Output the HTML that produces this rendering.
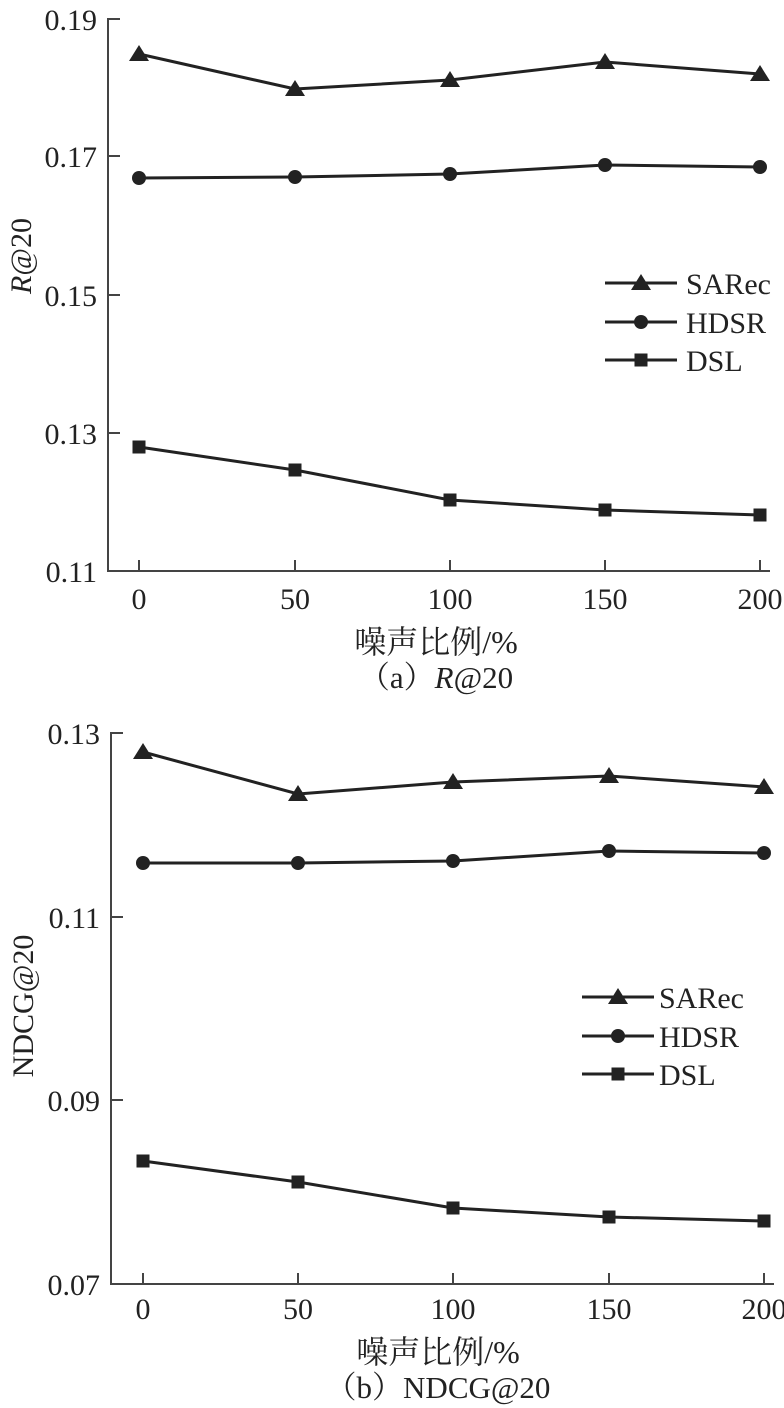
<!DOCTYPE html>
<html><head><meta charset="utf-8"><style>html,body{margin:0;padding:0;background:#fff}svg{display:block}</style></head>
<body>
<svg width="784" height="1408" viewBox="0 0 784 1408" xmlns="http://www.w3.org/2000/svg" font-family="'Liberation Serif','Noto Serif CJK SC',serif" fill="#222">
<defs>
<g id="tri"><polygon points="0,-9 10,7 -10,7" fill="#222"/></g>
<g id="cir"><circle r="7" fill="#222"/></g>
<g id="sq"><rect x="-6.5" y="-6.5" width="13" height="13" fill="#222"/></g>
</defs>
<!-- Chart a -->
<g stroke="#444" stroke-width="2" fill="none">
<path d="M120,19 H108 V571 H770"/>
<path d="M108,156 H120 M108,295 H120 M108,433 H120"/>
<path d="M139,571 V560 M295,571 V560 M450,571 V560 M605,571 V560 M760,571 V560"/>
</g>
<g font-size="30" text-anchor="end">
<text x="97" y="30">0.19</text><text x="97" y="167">0.17</text><text x="97" y="306">0.15</text><text x="97" y="444">0.13</text><text x="97" y="582">0.11</text>
</g>
<g font-size="30" text-anchor="middle">
<text x="139" y="609">0</text><text x="295" y="609">50</text><text x="450" y="609">100</text><text x="605" y="609">150</text><text x="760" y="609">200</text>
<text x="436" y="653" font-size="32">噪声比例/%</text>
<text x="436" y="688" font-size="31">（a）<tspan font-style="italic">R</tspan>@20</text>
<text transform="translate(31,256) rotate(-90)"><tspan font-style="italic">R</tspan>@20</text>
</g>
<g stroke="#222" stroke-width="3" fill="none">
<polyline points="139,54 295,89 450,80 605,62 760,74"/>
<polyline points="139,178 295,177 450,174 605,165 760,167"/>
<polyline points="139,447 295,470 450,500 605,510 760,515"/>
<path d="M605,283 H677 M605,322 H677 M605,360 H677"/>
</g>
<use href="#tri" x="139" y="54"/><use href="#tri" x="295" y="89"/><use href="#tri" x="450" y="80"/><use href="#tri" x="605" y="62"/><use href="#tri" x="760" y="74"/>
<use href="#cir" x="139" y="178"/><use href="#cir" x="295" y="177"/><use href="#cir" x="450" y="174"/><use href="#cir" x="605" y="165"/><use href="#cir" x="760" y="167"/>
<use href="#sq" x="139" y="447"/><use href="#sq" x="295" y="470"/><use href="#sq" x="450" y="500"/><use href="#sq" x="605" y="510"/><use href="#sq" x="760" y="515"/>
<use href="#tri" x="641" y="283"/><use href="#cir" x="641" y="322"/><use href="#sq" x="641" y="360"/>
<g font-size="30"><text x="686" y="294">SARec</text><text x="686" y="333">HDSR</text><text x="686" y="371">DSL</text></g>

<!-- Chart b -->
<g stroke="#444" stroke-width="2" fill="none">
<path d="M123,733 H111 V1284 H774"/>
<path d="M111,917 H123 M111,1100 H123"/>
<path d="M143,1284 V1273 M298,1284 V1273 M453,1284 V1273 M609,1284 V1273 M764,1284 V1273"/>
</g>
<g font-size="30" text-anchor="end">
<text x="100" y="744">0.13</text><text x="100" y="928">0.11</text><text x="100" y="1111">0.09</text><text x="100" y="1295">0.07</text>
</g>
<g font-size="30" text-anchor="middle">
<text x="143" y="1319">0</text><text x="298" y="1319">50</text><text x="453" y="1319">100</text><text x="609" y="1319">150</text><text x="764" y="1319">200</text>
<text x="438" y="1363" font-size="32">噪声比例/%</text>
<text x="438" y="1398" font-size="31">（b）NDCG@20</text>
<text transform="translate(33,1006) rotate(-90)">NDCG@20</text>
</g>
<g stroke="#222" stroke-width="3" fill="none">
<polyline points="143,752 298,794 453,782 609,776 764,787"/>
<polyline points="143,863 298,863 453,861 609,851 764,853"/>
<polyline points="143,1161 298,1182 453,1208 609,1217 764,1221"/>
<path d="M582,997 H654 M582,1036 H654 M582,1074 H654"/>
</g>
<use href="#tri" x="143" y="752"/><use href="#tri" x="298" y="794"/><use href="#tri" x="453" y="782"/><use href="#tri" x="609" y="776"/><use href="#tri" x="764" y="787"/>
<use href="#cir" x="143" y="863"/><use href="#cir" x="298" y="863"/><use href="#cir" x="453" y="861"/><use href="#cir" x="609" y="851"/><use href="#cir" x="764" y="853"/>
<use href="#sq" x="143" y="1161"/><use href="#sq" x="298" y="1182"/><use href="#sq" x="453" y="1208"/><use href="#sq" x="609" y="1217"/><use href="#sq" x="764" y="1221"/>
<use href="#tri" x="618" y="997"/><use href="#cir" x="618" y="1036"/><use href="#sq" x="618" y="1074"/>
<g font-size="30"><text x="659" y="1008">SARec</text><text x="659" y="1047">HDSR</text><text x="659" y="1085">DSL</text></g>
</svg>
</body></html>
